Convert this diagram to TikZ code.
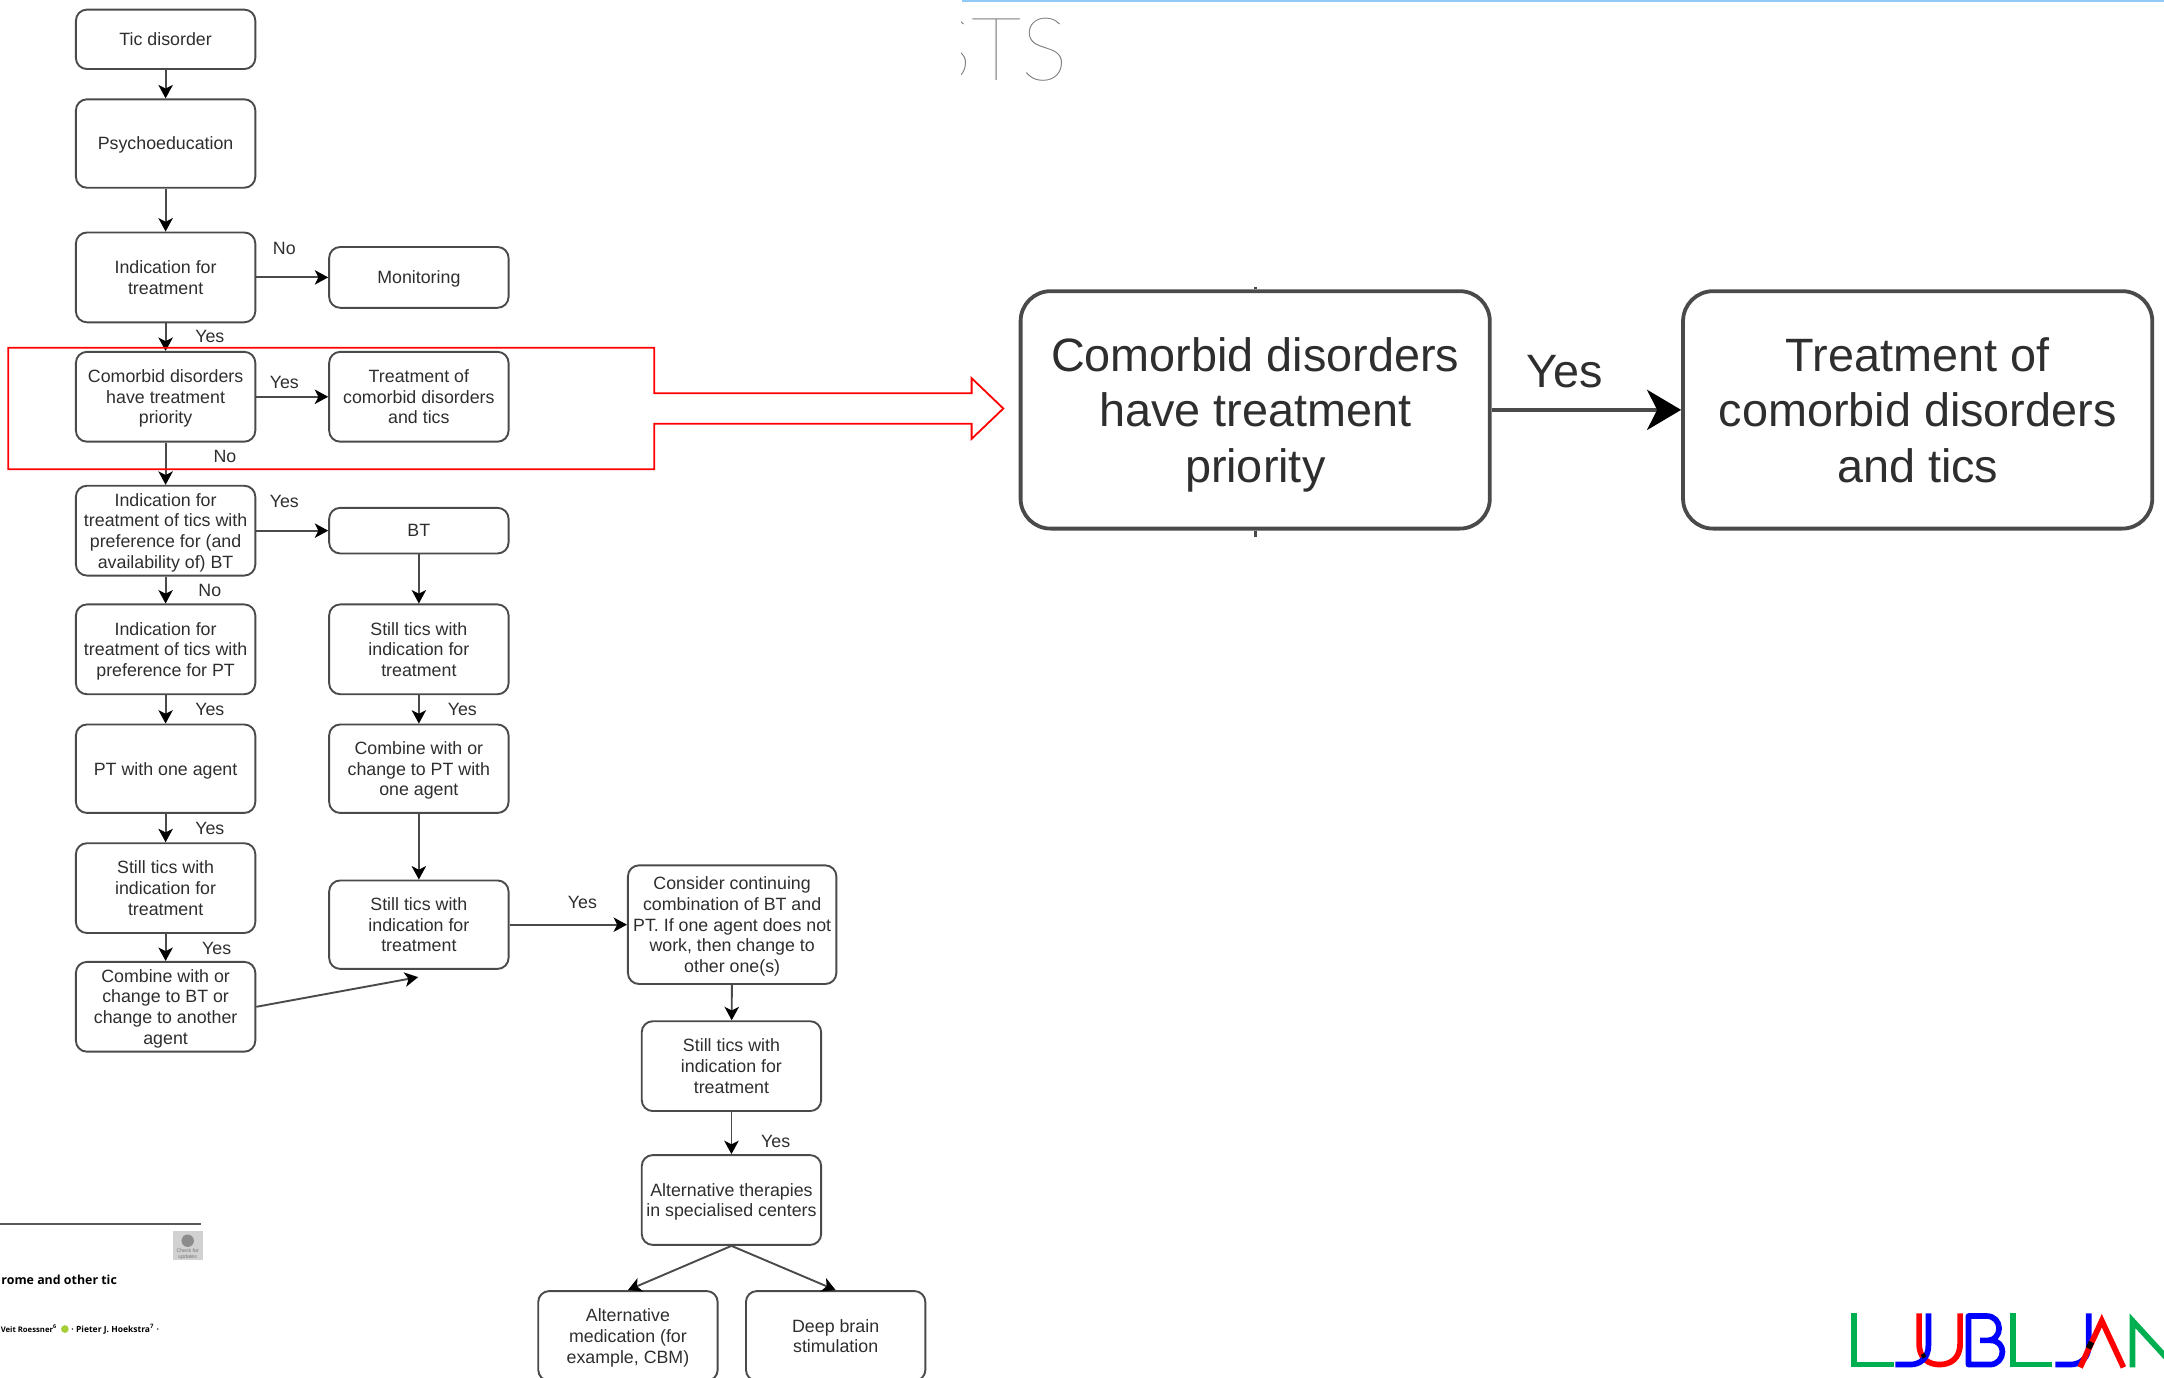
\documentclass[tikz,border=0pt]{standalone}
\usepackage{fontspec}
\setmainfont{Liberation Sans}
\newfontfamily\thinfont{Lato Hairline}
\newfontfamily\papfont{Open Sans}
\usetikzlibrary{arrows.meta}
\definecolor{edgeg}{HTML}{4A4A4A}
\definecolor{txtg}{HTML}{2E2E2E}
\definecolor{bandc}{HTML}{90CAF9}
\definecolor{orc}{HTML}{A6CE39}
\definecolor{logog}{HTML}{00B050}
\definecolor{logob}{HTML}{0000FF}
\definecolor{logor}{HTML}{FF0000}
\tikzset{
  x=0.69pt,y=-0.69pt,
  fbox/.style={draw=edgeg,line width=0.95pt,rounded corners=5.5pt,minimum width=89.7pt,align=center,inner sep=0pt,text=txtg,text depth=0pt,font=\fontsize{8.9}{10.35}\selectfont},
  bigbox/.style={draw=edgeg,line width=1.9pt,rounded corners=15pt,minimum width=234.6pt,minimum height=118.7pt,align=center,inner sep=0pt,text=txtg,text depth=0pt,font=\fontsize{23.4}{27.6}\selectfont},
  lab/.style={text=txtg,font=\fontsize{8.9}{10.35}\selectfont,inner sep=0pt},
  conn/.style={draw=edgeg,line width=0.95pt,-{Stealth[length=6.7pt,width=7.2pt,inset=1.8pt,color=black]}},
  bigconn/.style={draw=edgeg,line width=2.3pt,-{Stealth[length=17pt,width=20pt,inset=5pt,color=black]}},
  logo/.style={line width=2.85pt,line cap=butt,line join=miter},
}
\begin{document}
\begin{tikzpicture}
\useasboundingbox (0,0) rectangle (1568,997.8);
\clip (0,0) rectangle (1568,997.8);
% left column
\node[fbox,minimum height=29.7pt] (tic) at (120,28.5) {Tic disorder};
\node[fbox,minimum height=44.2pt] (psy) at (120,104) {Psychoeducation};
\node[fbox,minimum height=44.9pt] (ind) at (120,201) {Indication for\\treatment};
\node[fbox,minimum height=44.9pt] (com) at (120,287.5) {Comorbid disorders\\have treatment\\priority};
\node[fbox,minimum height=44.9pt] (itt) at (120,384.5) {Indication for\\treatment of tics with\\preference for (and\\availability of) BT};
\node[fbox,minimum height=44.9pt] (ipt) at (120,470.5) {Indication for\\treatment of tics with\\preference for PT};
\node[fbox,minimum height=44.2pt] (pt) at (120,557) {PT with one agent};
\node[fbox,minimum height=44.9pt] (st1) at (120,643.5) {Still tics with\\indication for\\treatment};
\node[fbox,minimum height=44.9pt] (cmb) at (120,729.5) {Combine with or\\change to BT or\\change to another\\agent};
% second column
\node[fbox,minimum height=30.4pt] (mon) at (303.5,201) {Monitoring};
\node[fbox,minimum height=44.9pt] (trt) at (303.5,287.5) {Treatment of\\comorbid disorders\\and tics};
\node[fbox,minimum height=22.8pt] (bt) at (303.5,384.5) {BT};
\node[fbox,minimum height=44.9pt] (st2) at (303.5,470.5) {Still tics with\\indication for\\treatment};
\node[fbox,minimum height=44.2pt] (cb2) at (303.5,557) {Combine with or\\change to PT with\\one agent};
\node[fbox,minimum height=44.2pt] (st3) at (303.5,670) {Still tics with\\indication for\\treatment};
\coordinate (st3in) at (303,708);
% third column
\node[fbox,minimum width=104.2pt,minimum height=59.3pt] (cons) at (530.5,670) {Consider continuing\\combination of BT and\\PT. If one agent does not\\work, then change to\\other one(s)};
\node[fbox,minimum height=44.9pt] (st4) at (530,772.5) {Still tics with\\indication for\\treatment};
\node[fbox,minimum height=44.9pt] (alt) at (530,869.5) {Alternative therapies\\in specialised centers};
\node[fbox,minimum height=44.9pt] (med) at (455,968) {Alternative\\medication (for\\example, CBM)};
\node[fbox,minimum height=44.9pt] (dbs) at (605.5,968) {Deep brain\\stimulation};
% connectors
\draw[conn] (tic) -- (psy);
\draw[conn] (psy) -- (ind);
\draw[conn] (ind) -- (com);
\draw[conn] (com) -- (itt);
\draw[conn] (itt) -- (ipt);
\draw[conn] (ipt) -- (pt);
\draw[conn] (pt) -- (st1);
\draw[conn] (st1) -- (cmb);
\draw[conn] (ind) -- (mon);
\draw[conn] (com) -- (trt);
\draw[conn] (itt) -- (bt);
\draw[conn] (bt) -- (st2);
\draw[conn] (st2) -- (cb2);
\draw[conn] (cb2) -- (st3);
\draw[conn] (st3) -- (cons);
\draw[conn] (cons) -- (st4);
\draw[conn] (st4) -- (alt);
\draw[conn] (cmb.east) -- (st3in);
\draw[conn] (alt.south) -- (med.north);
\draw[conn] (alt.south) -- (dbs.north);
% labels
\node[lab] (l1) at (206,180) {No};
\node[lab] (l2) at (152,244) {Yes};
\node[lab] (l3) at (206,277) {Yes};
\node[lab] (l4) at (163,331) {No};
\node[lab] (l5) at (206,363) {Yes};
\node[lab] (l6) at (152,428) {No};
\node[lab] (l7) at (152,514) {Yes};
\node[lab] (l8) at (335,514) {Yes};
\node[lab] (l9) at (152,600) {Yes};
\node[lab] (l10) at (157,687) {Yes};
\node[lab] (l11) at (422,654) {Yes};
\node[lab] (l12) at (562,827) {Yes};
% red callout arrow
\draw[red,line width=0.9pt,line join=miter] (6,252) -- (474,252) -- (474,285) -- (704,285) -- (704,274) -- (727,296) -- (704,318) -- (704,307) -- (474,307) -- (474,340) -- (6,340) -- cycle;
% enlarged view
\node[bigbox] (bcom) at (909.5,297) {Comorbid disorders\\have treatment\\priority};
\node[bigbox] (btrt) at (1389.5,297) {Treatment of\\comorbid disorders\\and tics};
\draw[bigconn] (bcom) -- (btrt);
\node[lab,font=\fontsize{23.4}{27.6}\selectfont] (bl) at (1134,269) {Yes};
\coordinate (tt) at (909.5,208);
\coordinate (tb) at (909.5,389);
\draw[edgeg,line width=1.6pt] (tt) -- (bcom.north);
\draw[edgeg,line width=1.6pt] (bcom.south) -- (tb);
% top right fragments
\fill[bandc] (697,0) rectangle (1568,1.6);
\begin{scope}
\clip (697,0) rectangle (900,80);
\node[anchor=base west,inner sep=0pt,text=black!55,font=\thinfont\fontsize{44}{44}\selectfont] (sts) at (670,58) {STS};
\end{scope}
% bottom left fragments
\draw[black!65,line width=0.8pt] (0,887) -- (146,887);
\fill[black!18] (125,892) rectangle (147,913);
\fill[black!45] (136,899) circle (4.5);
\node[text=black!55,font=\fontsize{2.6}{3}\selectfont,align=center,inner sep=0pt] (upd) at (136,908.5) {Check for\\updates};
\node[anchor=east,inner sep=0pt,font=\papfont\bfseries\fontsize{6.2}{8}\selectfont] (ttl) at (85,927) {rome and other tic};
\node[anchor=west,inner sep=0pt,font=\papfont\bfseries\fontsize{3.85}{6}\selectfont] (aut1) at (0.3,963) {Veit Roessner\textsuperscript{6}};
\node[anchor=west,inner sep=0pt,font=\papfont\bfseries\fontsize{4.25}{6}\selectfont] (aut2) at (51.5,963) {· Pieter J. Hoekstra\textsuperscript{7} ·};
\fill[orc] (47,963) circle (2.8);
% logo
\begin{scope}[shift={(1318.8,927.5)},x=0.16667pt,y=-0.16667pt]
\draw[logo,draw=logog] (101,100) -- (101,253.5) -- (222,253.5);
\draw[logo,draw=logog] (578,100) -- (578,253.5) -- (697,253.5);
\draw[logo,draw=logog] (937,262) -- (937,122) -- (1045,240);
\draw[logo,draw=logor] (297,100) -- (297,190) .. controls (297,235) and (325,253.5) .. (358,253.5) .. controls (392,253.5) and (420,235) .. (420,190) -- (420,100);
\draw[logo,draw=logob] (325,100) -- (325,195) .. controls (325,235) and (300,253.5) .. (270,253.5) -- (226,253.5);
\draw[logo,draw=logob] (806,100) -- (806,195) .. controls (806,235) and (780,253.5) .. (750,253.5) -- (706,253.5);
\draw[logo,draw=logob,line join=round] (480,181) -- (512,181) .. controls (535,181) and (547,198) .. (547,215) .. controls (547,235) and (532,253.5) .. (510,253.5) -- (445,253.5) -- (445,108) -- (500,108) .. controls (522,108) and (537,125) .. (537,145) .. controls (537,165) and (522,181) .. (505,181);
\draw[logo,draw=logor] (780,262) -- (845,122) -- (910,262);
\draw[logo,draw=black] (805,205) -- (814,186);
\draw[logo,draw=black,line width=2pt] (305,230) -- (316,224);
\end{scope}
\end{tikzpicture}
\end{document}
